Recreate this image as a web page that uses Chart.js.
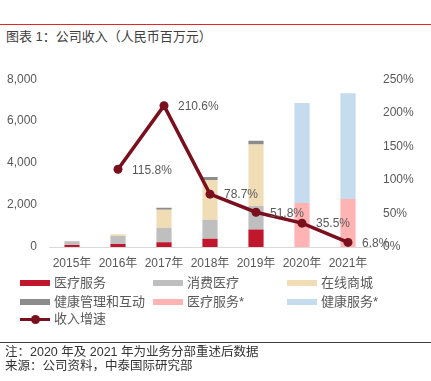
<!DOCTYPE html>
<html>
<head>
<meta charset="utf-8">
<script src="https://cdn.jsdelivr.net/npm/chart.js@4.4.1/dist/chart.umd.min.js"></script>
<style>
  html, body { margin: 0; padding: 0; background: #fff; }
  body { width: 431px; height: 381px; position: relative; overflow: hidden;
         font-family: "Liberation Sans", "Noto Sans CJK SC", sans-serif; }
  #topline { position: absolute; left: 0; top: 24px; width: 431px; height: 1px; background: #E3262A; }
  #title { position: absolute; left: 6px; top: 28px; font-size: 13px; line-height: 17px; color: #404040;
           font-family: "Liberation Sans", "Noto Sans CJK SC", sans-serif; white-space: nowrap; }
  #wrap { position: absolute; left: 0; top: 60px; width: 431px; height: 210px; }
  #legend { position: absolute; left: 0; top: 0; width: 431px; height: 381px; pointer-events: none; }
  .lg-item { position: absolute; height: 16px; white-space: nowrap; }
  .lg-box { position: absolute; left: 0; top: 5px; width: 30px; height: 6px; }
  .lg-text { position: absolute; left: 34px; top: 0; font-size: 13px; line-height: 16px; color: #595959;
             font-family: "Liberation Sans", "Noto Sans CJK SC", sans-serif; }
  #botline { position: absolute; left: 0; top: 342px; width: 431px; height: 1px; background: #404040; }
  .note { position: absolute; left: 5px; font-size: 12.5px; line-height: 15px; color: #333;
          font-family: "Liberation Sans", "Noto Sans CJK SC", sans-serif; white-space: nowrap; }
</style>
</head>
<body>
<div id="topline"></div>
<div id="title">图表 1：公司收入（人民币百万元）</div>
<div id="wrap"><canvas id="c"></canvas></div>
<div id="legend"></div>
<div id="botline"></div>
<div class="note" style="top:345px">注：2020 年及 2021 年为业务分部重述后数据</div>
<div class="note" style="top:359px">来源：公司资料，中泰国际研究部</div>
<script>
// ---- data ----
const years = ["2015年", "2016年", "2017年", "2018年", "2019年", "2020年", "2021年"];
const medicalServices   = [100, 140, 230, 390, 837, null, null];   // 医疗服务
const consumerHealth    = [179, 380, 670, 910, 1116, null, null];  // 消费医疗
const onlineMall        = [null, 82, 870, 1900, 2930, null, null]; // 在线商城
const healthMgmt        = [null, null, 98, 138, 182, null, null];  // 健康管理和互动
const medicalServicesR  = [null, null, null, null, null, 2100, 2290]; // 医疗服务*
const healthServicesR   = [null, null, null, null, null, 4766, 5044]; // 健康服务*
const revenueGrowth     = [null, 115.8, 210.6, 78.7, 51.8, 35.5, 6.8]; // 收入增速 (%)
const leftTicks  = [0, 2000, 4000, 6000, 8000];
const rightTicks = [0, 50, 100, 150, 200, 250];

const labelFont = '"Liberation Sans", "Noto Sans CJK SC", sans-serif';
const gray = '#595959';

function bar(label, data, color) {
  return { type: 'bar', label, data, backgroundColor: color, borderWidth: 0,
           stack: 's', yAxisID: 'y', order: 1,
           barPercentage: 0.33, categoryPercentage: 1.0 };
}

const datasets = [
  bar('医疗服务', medicalServices, '#C0172D'),
  bar('消费医疗', consumerHealth, '#BFBFBF'),
  bar('在线商城', onlineMall, '#F0DDB6'),
  bar('健康管理和互动', healthMgmt, '#8C8C8C'),
  bar('医疗服务*', medicalServicesR, '#FFB3B3'),
  bar('健康服务*', healthServicesR, '#C5DBEE'),
  { type: 'line', label: '收入增速', data: revenueGrowth, yAxisID: 'y1', order: 0,
    borderColor: '#7A0F1E', backgroundColor: '#7A0F1E', borderWidth: 3.5,
    pointRadius: 4.5, pointHoverRadius: 4.5, pointBackgroundColor: '#7A0F1E',
    pointBorderWidth: 0, tension: 0, spanGaps: false }
];

const pointLabels = {
  id: 'pointLabels',
  afterDatasetsDraw(chart) {
    const idx = chart.data.datasets.findIndex(d => d.type === 'line');
    const meta = chart.getDatasetMeta(idx);
    const ctx = chart.ctx;
    ctx.save();
    ctx.font = '12px ' + labelFont;
    ctx.fillStyle = gray;
    ctx.textAlign = 'left';
    ctx.textBaseline = 'middle';
    meta.data.forEach((pt, j) => {
      const v = chart.data.datasets[idx].data[j];
      if (v == null) return;
      ctx.fillText(v.toFixed(1) + '%', pt.x + 14, pt.y + 1);
    });
    ctx.restore();
  }
};

const chart = new Chart(document.getElementById('c'), {
  data: { labels: years, datasets },
  plugins: [pointLabels],
  options: {
    responsive: true, maintainAspectRatio: false, animation: false,
    layout: { padding: { top: 15, left: 0, right: 0, bottom: 0 } },
    plugins: { legend: { display: false }, tooltip: { enabled: false } },
    scales: {
      x: {
        stacked: true,
        grid: { display: false, drawTicks: false },
        border: { display: true, color: '#D9D9D9', width: 1 },
        ticks: { color: gray, font: { size: 12, family: labelFont }, padding: 9, maxRotation: 0, autoSkip: false },
        afterFit(s) { s.height = 23; }
      },
      y: {
        stacked: true, position: 'left', min: 0, max: 8000,
        grid: { display: false, drawTicks: false },
        border: { display: false },
        afterBuildTicks(s) { s.ticks = leftTicks.map(v => ({ value: v })); },
        ticks: { color: gray, font: { size: 12, family: labelFont }, padding: 12,
                 callback: v => v.toLocaleString('en-US') },
        afterFit(s) { s.width = 49; }
      },
      y1: {
        position: 'right', min: 0, max: 250,
        grid: { display: false, drawTicks: false },
        border: { display: false },
        afterBuildTicks(s) { s.ticks = rightTicks.map(v => ({ value: v })); },
        ticks: { color: gray, font: { size: 12, family: labelFont }, padding: 12,
                 callback: v => v + '%' },
        afterFit(s) { s.width = 60; }
      }
    }
  }
});

// ---- legend built from the chart's datasets ----
const cols = [20, 153, 287];
const rows = [275, 294, 311];
const lg = document.getElementById('legend');
chart.data.datasets.forEach((ds, i) => {
  const item = document.createElement('div');
  item.className = 'lg-item';
  item.style.left = cols[i % 3] + 'px';
  item.style.top = rows[Math.floor(i / 3)] + 'px';
  if (ds.type === 'line') {
    item.innerHTML = '<div style="position:absolute;left:0;top:6.5px;width:30px;height:3px;background:' + ds.borderColor + '"></div>' +
      '<div style="position:absolute;left:10.5px;top:3.5px;width:9px;height:9px;border-radius:50%;background:' + ds.borderColor + '"></div>';
  } else {
    item.innerHTML = '<div class="lg-box" style="background:' + ds.backgroundColor + '"></div>';
  }
  const t = document.createElement('div');
  t.className = 'lg-text';
  t.textContent = ds.label;
  item.appendChild(t);
  lg.appendChild(item);
});
</script>
</body>
</html>
